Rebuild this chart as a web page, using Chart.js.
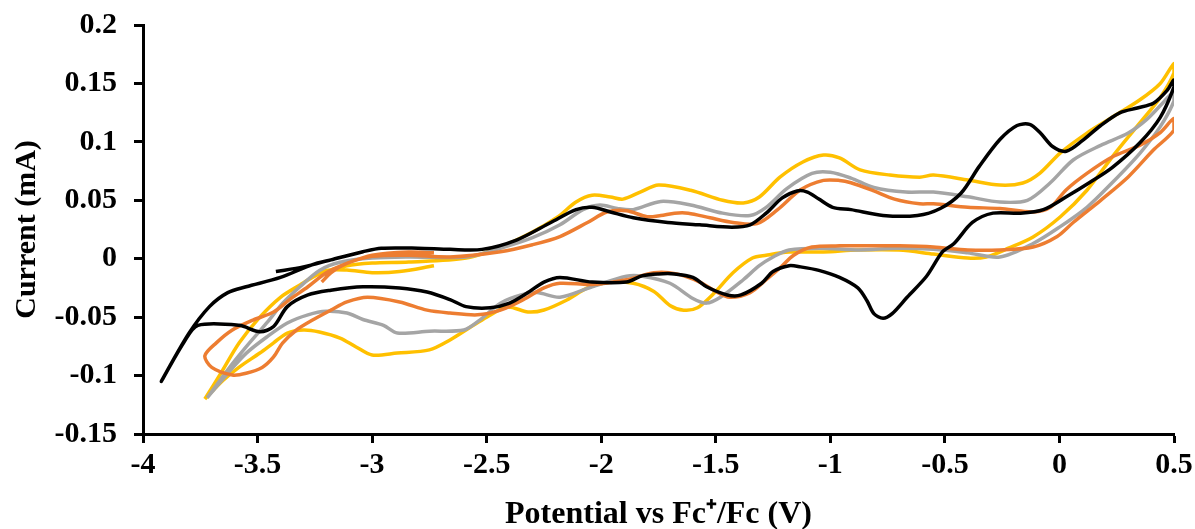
<!DOCTYPE html>
<html>
<head>
<meta charset="utf-8">
<script src="https://cdn.jsdelivr.net/npm/chart.js@4/dist/chart.umd.min.js"></script>
<style>
  html, body { margin: 0; padding: 0; background: #ffffff; }
  #wrap { width: 1195px; height: 529px; position: relative; }
</style>
</head>
<body>
<div id="wrap"><canvas id="cvChart"></canvas></div>
<script>
// ===== CV data (potential in V, current in mA) =====

// black scan
const blackV = [-3.42, -3.30, -3.18, -3.04, -2.96, -2.80, -2.66, -2.52, -2.37, -2.22, -2.11, -2.04, -1.96, -1.86, -1.71, -1.57, -1.43, -1.35, -1.28, -1.21, -1.145, -1.10, -1.05, -0.99, -0.91, -0.77, -0.62, -0.52, -0.43, -0.35, -0.26, -0.185, -0.13, -0.085, -0.03, 0.03, 0.10, 0.18, 0.265, 0.34, 0.41, 0.47, 0.50,
  0.50, 0.44, 0.35, 0.23, 0.13, 0.03, -0.07, -0.17, -0.29, -0.38, -0.46, -0.51, -0.58, -0.665, -0.73, -0.77, -0.81, -0.84, -0.88, -0.96, -1.05, -1.13, -1.18, -1.25, -1.30, -1.39, -1.45, -1.54, -1.60, -1.68, -1.75, -1.82, -1.89, -2.04, -2.18, -2.25, -2.32, -2.40, -2.485, -2.59, -2.66, -2.76, -2.88, -3.04, -3.18, -3.28, -3.37, -3.43, -3.49, -3.58, -3.76, -3.82, -3.92,
  -3.80, -3.71, -3.63, -3.55, -3.40, -3.26, -3.18, -3.04];
const blackI = [-0.011, -0.007, -0.001, 0.006, 0.009, 0.009, 0.008, 0.008, 0.016, 0.031, 0.042, 0.044, 0.040, 0.035, 0.031, 0.029, 0.027, 0.029, 0.039, 0.052, 0.058, 0.057, 0.051, 0.044, 0.042, 0.037, 0.037, 0.043, 0.056, 0.079, 0.102, 0.114, 0.115, 0.108, 0.096, 0.092, 0.101, 0.114, 0.125, 0.129, 0.133, 0.144, 0.153,
  0.147, 0.121, 0.099, 0.078, 0.065, 0.053, 0.042, 0.039, 0.039, 0.031, 0.013, 0.006, -0.015, -0.033, -0.047, -0.051, -0.047, -0.036, -0.025, -0.016, -0.010, -0.007, -0.006, -0.011, -0.021, -0.031, -0.031, -0.024, -0.016, -0.013, -0.013, -0.0145, -0.020, -0.020, -0.016, -0.020, -0.029, -0.038, -0.042, -0.041, -0.035, -0.0285, -0.025, -0.024, -0.027, -0.031, -0.041, -0.058, -0.0625, -0.057, -0.057, -0.071, -0.105,
  -0.064, -0.041, -0.029, -0.024, -0.016, -0.005, -0.001, 0.006];

// orange scan
const orangeV = [-3.22, -3.18, -3.11, -3.00, -2.84, -2.66, -2.44, -2.30, -2.18, -2.06, -1.975, -1.89, -1.80, -1.74, -1.68, -1.62, -1.525, -1.425, -1.32, -1.23, -1.13, -1.03, -0.96, -0.91, -0.81, -0.72, -0.61, -0.55, -0.40, -0.26, -0.115, -0.04, 0.03, 0.12, 0.23, 0.35, 0.44, 0.50,
  0.50, 0.41, 0.30, 0.18, 0.06, -0.01, -0.115, -0.26, -0.40, -0.55, -0.70, -0.81, -0.96, -1.08, -1.16, -1.22, -1.28, -1.35, -1.44, -1.50, -1.57, -1.67, -1.77, -1.89, -2.04, -2.18, -2.25, -2.34, -2.44, -2.54, -2.66, -2.76, -2.88, -3.02, -3.11, -3.18, -3.26, -3.33, -3.39, -3.43, -3.48, -3.55, -3.61, -3.70, -3.73,
  -3.68, -3.61, -3.52, -3.43, -3.36, -3.28, -3.20, -3.11, -3.00, -2.84, -2.73];
const orangeI = [-0.020, -0.012, -0.004, 0.002, 0.003, 0.0015, 0.006, 0.012, 0.019, 0.031, 0.040, 0.041, 0.036, 0.037, 0.039, 0.039, 0.035, 0.031, 0.030, 0.042, 0.059, 0.067, 0.067, 0.065, 0.058, 0.051, 0.047, 0.047, 0.044, 0.043, 0.040, 0.044, 0.059, 0.073, 0.087, 0.097, 0.108, 0.120,
  0.110, 0.093, 0.070, 0.050, 0.031, 0.019, 0.010, 0.0075, 0.0075, 0.010, 0.011, 0.011, 0.011, 0.010, 0.003, -0.008, -0.018, -0.029, -0.033, -0.028, -0.020, -0.013, -0.012, -0.018, -0.022, -0.021, -0.025, -0.035, -0.044, -0.048, -0.0465, -0.044, -0.037, -0.033, -0.037, -0.044, -0.0525, -0.061, -0.072, -0.084, -0.093, -0.098, -0.0995, -0.093, -0.083,
  -0.072, -0.061, -0.0525, -0.0456, -0.035, -0.024, -0.012, -0.004, 0.003, 0.0057, 0.005];

// gray scan
const grayV = [-3.72, -3.63, -3.55, -3.46, -3.39, -3.315, -3.23, -3.14, -3.00, -2.84, -2.59, -2.44, -2.30, -2.18, -2.08, -2.005, -1.93, -1.86, -1.74, -1.61, -1.47, -1.35, -1.28, -1.19, -1.08, -1.00, -0.91, -0.81, -0.67, -0.55, -0.40, -0.26, -0.14, -0.04, 0.06, 0.18, 0.30, 0.38, 0.45, 0.50,
  0.50, 0.44, 0.35, 0.23, 0.12, 0.00, -0.115, -0.26, -0.40, -0.55, -0.70, -0.88, -1.045, -1.18, -1.25, -1.31, -1.38, -1.48, -1.54, -1.60, -1.70, -1.82, -1.89, -2.04, -2.18, -2.28, -2.35, -2.44, -2.53, -2.60, -2.75, -2.89, -2.95, -3.04, -3.11, -3.20, -3.28, -3.37, -3.46, -3.55, -3.63, -3.69, -3.72];
const grayI = [-0.119, -0.095, -0.0755, -0.055, -0.038, -0.024, -0.010, -0.003, 0.0006, 0.0015, 0.0015, 0.009, 0.018, 0.029, 0.042, 0.046, 0.043, 0.042, 0.049, 0.046, 0.039, 0.037, 0.044, 0.060, 0.073, 0.074, 0.069, 0.061, 0.057, 0.057, 0.053, 0.0485, 0.050, 0.065, 0.0845, 0.097, 0.1075, 0.119, 0.133, 0.143,
  0.135, 0.113, 0.090, 0.065, 0.044, 0.027, 0.013, 0.0015, 0.005, 0.008, 0.009, 0.0075, 0.009, 0.0074, 0.0015, -0.006, -0.018, -0.033, -0.038, -0.034, -0.021, -0.015, -0.015, -0.024, -0.033, -0.029, -0.031, -0.038, -0.0525, -0.061, -0.062, -0.0636, -0.057, -0.052, -0.0465, -0.045, -0.048, -0.055, -0.067, -0.081, -0.098, -0.112, -0.119];

// yellow scan
const yellowV = [-2.73, -2.88, -3.00, -3.11, -3.20, -3.27, -3.315, -3.40, -3.49, -3.58, -3.66, -3.73,
  -3.66, -3.58, -3.49, -3.40, -3.315, -3.23, -3.11, -3.00, -2.84, -2.59, -2.44, -2.30, -2.19, -2.11, -2.04, -1.96, -1.905, -1.83, -1.75, -1.61, -1.47, -1.38, -1.31, -1.22, -1.12, -1.03, -0.96, -0.87, -0.74, -0.61, -0.55, -0.40, -0.26, -0.16, -0.085, 0.003, 0.12, 0.23, 0.35, 0.44, 0.50,
  0.50, 0.44, 0.35, 0.23, 0.12, 0.003, -0.115, -0.22, -0.32, -0.40, -0.55, -0.70, -0.88, -1.03, -1.18, -1.28, -1.34, -1.425, -1.51, -1.58, -1.64, -1.70, -1.77, -1.86, -1.96, -2.06, -2.15, -2.25, -2.32, -2.41, -2.50, -2.57, -2.66, -2.75, -2.89, -3.00, -3.07, -3.14, -3.23, -3.30, -3.37, -3.43, -3.49, -3.58, -3.65, -3.73];
const yellowI = [-0.006, -0.011, -0.012, -0.0097, -0.010, -0.017, -0.0225, -0.033, -0.050, -0.072, -0.098, -0.120,
  -0.098, -0.072, -0.050, -0.033, -0.0225, -0.013, -0.006, -0.0037, -0.0028, 0.0006, 0.010, 0.0228, 0.0357, 0.0485, 0.0543, 0.0528, 0.051, 0.057, 0.063, 0.0586, 0.050, 0.0477, 0.0528, 0.0698, 0.0828, 0.0887, 0.0862, 0.076, 0.0716, 0.0698, 0.0716, 0.0674, 0.063, 0.0648, 0.0733, 0.0904, 0.1075, 0.121, 0.1358, 0.150, 0.167,
  0.159, 0.138, 0.116, 0.087, 0.0586, 0.0357, 0.0186, 0.0092, 0.0015, 0.0006, 0.004, 0.0074, 0.0074, 0.0057, 0.0057, 0.003, 0.0006, -0.012, -0.030, -0.042, -0.044, -0.040, -0.028, -0.021, -0.020, -0.025, -0.0353, -0.0439, -0.0456, -0.0413, -0.050, -0.0585, -0.0695, -0.078, -0.0807, -0.0824, -0.0755, -0.0679, -0.0627, -0.061, -0.0636, -0.072, -0.0807, -0.0927, -0.104, -0.120];

// axis ticks
const xTicks = [-4, -3.5, -3, -2.5, -2, -1.5, -1, -0.5, 0, 0.5];
const yTicks = [-0.15, -0.1, -0.05, 0, 0.05, 0.1, 0.15, 0.2];

const seriesNames = ['black', 'orange', 'gray', 'yellow'];
const seriesColors = ['#000000', '#ED7D31', '#A5A5A5', '#FFC000'];

function toPoints(vs, is) {
    return vs.map((v, k) => ({ x: v, y: is[k] }));
}

const serifFamily = "'Liberation Serif', 'Times New Roman', serif";
const tickFont = { family: serifFamily, size: 30, weight: 'bold' };
const titleFontX = { family: serifFamily, size: 32, weight: 'bold' };
const titleFontY = { family: serifFamily, size: 30, weight: 'bold' };

const datasets = [
    toPoints(blackV, blackI),
    toPoints(orangeV, orangeI),
    toPoints(grayV, grayI),
    toPoints(yellowV, yellowI)
].map((pts, k) => ({
    label: seriesNames[k],
    data: pts,
    showLine: true,
    borderColor: seriesColors[k],
    backgroundColor: seriesColors[k],
    borderWidth: 3.5,
    pointRadius: 0,
    tension: 0.3,
    fill: false
}));

const axisCommon = {
    border: { display: true, color: '#000000', width: 3 },
    grid: { display: true, drawOnChartArea: false, drawTicks: true, tickLength: 9, tickColor: '#000000', tickWidth: 3 }
};

new Chart(document.getElementById('cvChart'), {
    type: 'scatter',
    data: { datasets: datasets },
    options: {
        responsive: true,
        maintainAspectRatio: false,
        animation: false,
        layout: { padding: { top: 25, right: 21, left: 0, bottom: 0 } },
        plugins: {
            legend: { display: false },
            tooltip: { enabled: false }
        },
        scales: {
            x: {
                ...axisCommon,
                type: 'linear',
                min: -4,
                max: 0.5,
                afterBuildTicks: (scale) => { scale.ticks = xTicks.map(v => ({ value: v })); },
                afterFit: (scale) => { scale.height = 95; scale.paddingRight = 0; },
                ticks: {
                    autoSkip: false,
                    maxRotation: 0,
                    padding: 4,
                    color: '#000000',
                    font: tickFont,
                    callback: (v) => String(+v.toFixed(2))
                },
                title: {
                    display: true,
                    text: 'Potential vs Fc⁺/Fc (V)',
                    color: '#000000',
                    font: titleFontX,
                    padding: { top: 0, bottom: -5 }
                }
            },
            y: {
                ...axisCommon,
                type: 'linear',
                min: -0.15,
                max: 0.2,
                afterBuildTicks: (scale) => { scale.ticks = yTicks.map(v => ({ value: v })); },
                afterFit: (scale) => { scale.width = 143; scale.paddingTop = 0; scale.paddingBottom = 0; },
                ticks: {
                    autoSkip: false,
                    padding: 17,
                    color: '#000000',
                    font: tickFont,
                    callback: (v) => String(+v.toFixed(2))
                },
                title: {
                    display: true,
                    text: 'Current (mA)',
                    color: '#000000',
                    font: titleFontY,
                    padding: { top: 9, bottom: 0 }
                }
            }
        }
    }
});
</script>
</body>
</html>
